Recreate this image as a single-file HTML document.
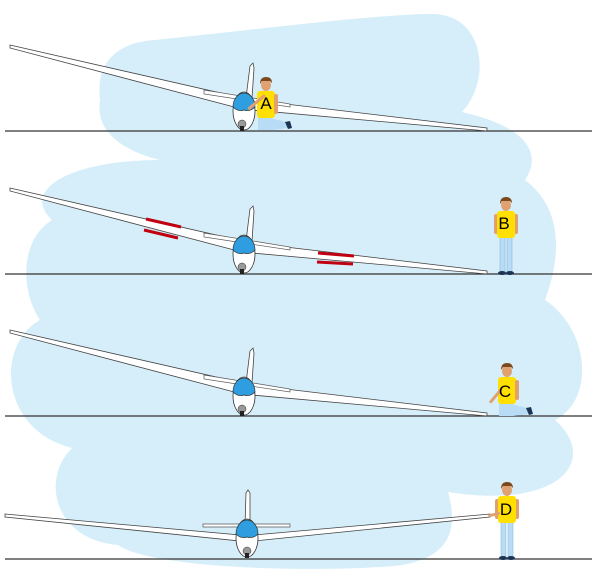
<!DOCTYPE html>
<html><head><meta charset="utf-8"><style>
html,body{margin:0;padding:0;background:#fff}
svg{display:block}
text{font-family:"Liberation Sans","DejaVu Sans",sans-serif}
</style></head><body>
<svg width="600" height="581" viewBox="0 0 600 581" xmlns="http://www.w3.org/2000/svg">
<defs>
<g id="glider">
  <!-- left wing -->
  <polygon points="10,45 238,97 238,108 10,48" fill="#fff" stroke="#444" stroke-width="0.8"/>
  <!-- right wing -->
  <polygon points="252,100 487,128 487,131 252,110" fill="#fff" stroke="#444" stroke-width="0.8"/>
  <!-- stabilizer -->
  <polygon points="204,90 290,104 290,107 204,94" fill="#fff" stroke="#555" stroke-width="0.7"/>
  <!-- fin -->
  <polygon points="246,98 250,66 253,63 254,68 252,98" fill="#fff" stroke="#444" stroke-width="0.8"/>
  <!-- fuselage -->
  <ellipse cx="244" cy="111" rx="11" ry="19" fill="#fff" stroke="#333" stroke-width="0.8"/>
  <path d="M233,107 A11,14 0 0 1 255,107 Q250,112 244,110 Q238,112 233,107 Z" fill="#2e9ee0" stroke="#333" stroke-width="0.7"/>
  <ellipse cx="242" cy="124" rx="4" ry="4" fill="#999" stroke="#333" stroke-width="0.5"/>
  <rect x="240" y="126" width="4" height="5" fill="#222"/>
</g>
<g id="stand">
  <rect x="-6" y="38" width="5" height="36" fill="#b8dcf6" stroke="#7fb0d8" stroke-width="0.5"/>
  <rect x="1" y="38" width="5" height="36" fill="#b8dcf6" stroke="#7fb0d8" stroke-width="0.5"/>
  <ellipse cx="-4" cy="75" rx="4" ry="2" fill="#1c3557"/>
  <ellipse cx="4" cy="75" rx="4" ry="2" fill="#1c3557"/>
  <rect x="-12" y="16" width="4" height="20" rx="2" fill="#e0a070"/>
  <rect x="8" y="16" width="4" height="20" rx="2" fill="#e0a070"/>
  <rect x="-9" y="13" width="18" height="27" rx="3" fill="#ffe000"/>
  <ellipse cx="0" cy="7" rx="5" ry="6" fill="#e0a070"/>
  <path d="M-6,6 Q-6,-1 0,-1 Q6,-1 6,5 L4,3 L-4,3 Z" fill="#7a4a1e"/>
</g>
<g id="kneel">
  <rect x="-8" y="38" width="14" height="14" fill="#b8dcf6"/>
  <polygon points="4,40 20,44 22,50 6,52" fill="#b8dcf6"/>
  <polygon points="19,44 24,43 26,50 22,51" fill="#1c3557"/>
  <rect x="-9" y="13" width="18" height="27" rx="3" fill="#ffe000"/>
  <ellipse cx="0" cy="7" rx="5" ry="6" fill="#e0a070"/>
  <path d="M-6,6 Q-6,-1 0,-1 Q6,-1 6,5 L4,3 L-4,3 Z" fill="#7a4a1e"/>
  <rect x="8" y="16" width="4" height="20" rx="2" fill="#e0a070"/>
</g>
</defs>

<!-- blob -->
<path d="M155,40 C250,30 380,14 432,14 C485,14 492,80 462,112 C520,125 545,150 525,180 C565,210 560,260 545,300 C590,330 595,400 555,420 C600,460 560,510 448,492 C462,540 440,565 380,567 C300,572 150,568 118,545 C55,540 40,480 72,448 C0,430 -5,345 40,320 C20,290 20,240 52,220 C20,190 70,160 160,160 C120,150 95,130 100,100 C95,60 120,42 155,40 Z" fill="#d6eef9"/>

<!-- ground lines -->
<g stroke="#333" stroke-width="1.2">
<line x1="5" y1="131" x2="592" y2="131"/>
<line x1="5" y1="274" x2="592" y2="274"/>
<line x1="5" y1="416" x2="592" y2="416"/>
<line x1="5" y1="559" x2="592" y2="559"/>
</g>

<!-- panel A -->
<use href="#glider"/>
<use href="#kneel" transform="translate(266,78)"/>
<rect x="245" y="98" width="22" height="3" rx="1.5" fill="#e0a070" transform="rotate(-40 260 100)"/>
<text x="266" y="109" font-size="17" text-anchor="middle" fill="#000">A</text>

<!-- panel B -->
<use href="#glider" transform="translate(0,143)"/>
<g stroke="#c00010" stroke-width="3">
<line x1="146" y1="219" x2="181" y2="227"/>
<line x1="144" y1="230" x2="178" y2="238"/>
<line x1="318" y1="253" x2="354" y2="256"/>
<line x1="317" y1="262" x2="353" y2="264"/>
</g>
<use href="#stand" transform="translate(506,198)"/>
<text x="504" y="229" font-size="17" text-anchor="middle" fill="#000">B</text>

<!-- panel C -->
<use href="#glider" transform="translate(0,285)"/>
<use href="#kneel" transform="translate(507,364)"/>
<rect x="486" y="392" width="18" height="3" rx="1.5" fill="#e0a070" transform="rotate(-50 498 394)"/>
<text x="505" y="397" font-size="17" text-anchor="middle" fill="#000">C</text>

<!-- panel D glider (level) -->
<polygon points="5,514 240,535 240,541 5,517" fill="#fff" stroke="#444" stroke-width="0.8"/>
<polygon points="254,535 490,514 490,517 254,541" fill="#fff" stroke="#444" stroke-width="0.8"/>
<polygon points="203,524 290,524 290,527 203,527" fill="#fff" stroke="#555" stroke-width="0.7"/>
<polygon points="245,525 246,493 248,490 250,493 250,525" fill="#fff" stroke="#444" stroke-width="0.8"/>
<ellipse cx="247" cy="538" rx="11" ry="19" fill="#fff" stroke="#333" stroke-width="0.8"/>
<path d="M236,534 A11,14 0 0 1 258,534 Q253,539 247,537 Q241,539 236,534 Z" fill="#2e9ee0" stroke="#333" stroke-width="0.7"/>
<ellipse cx="247" cy="551" rx="4" ry="4" fill="#999" stroke="#333" stroke-width="0.5"/>
<rect x="245" y="553" width="4" height="5" fill="#222"/>
<use href="#stand" transform="translate(507,483)"/>
<rect x="488" y="513" width="12" height="3" rx="1.5" fill="#e0a070" transform="rotate(-15 494 514)"/>
<text x="506" y="515" font-size="17" text-anchor="middle" fill="#000">D</text>
</svg>
</body></html>
